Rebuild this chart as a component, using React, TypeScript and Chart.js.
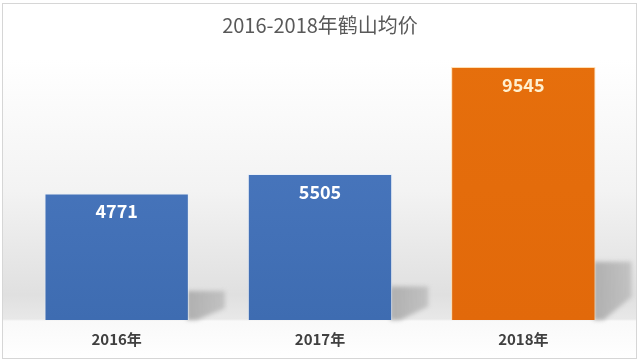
import React, { useEffect, useRef } from "react";
import { Chart, registerables } from "chart.js";

Chart.register(...registerables);

const TITLE = "2016-2018年鹤山均价";
const categories = ["2016年", "2017年", "2018年"];
const prices = [4771, 5505, 9545];
const barTop = ["#4D7BC3", "#4D7BC3", "#E66F0C"];
const barBottom = ["#3E6CB1", "#3E6CB1", "#E2690A"];
const labelColors = ["#FFFFFF", "#FFFFFF", "#FFF0CF"];

const FONT = "'Noto Sans CJK SC', 'Noto Sans', sans-serif";

const backgroundPlugin = {
  id: "bgPlugin",
  beforeDraw(chart: any) {
    const { ctx, width, height } = chart;
    ctx.save();
    ctx.fillStyle = "#ffffff";
    ctx.fillRect(0, 0, width, height);
    const g = ctx.createLinearGradient(0, 0, 0, 359);
    g.addColorStop(0, "#ffffff");
    g.addColorStop(60 / 359, "#ffffff");
    g.addColorStop(190 / 359, "#f3f3f3");
    g.addColorStop(295 / 359, "#e0e0e0");
    g.addColorStop(319 / 359, "#e8e8e8");
    g.addColorStop(321 / 359, "#f9f9f9");
    g.addColorStop(1, "#ffffff");
    ctx.fillStyle = g;
    ctx.fillRect(3, 4, 633, 354);
    ctx.strokeStyle = "#d6d6d6";
    ctx.lineWidth = 1;
    ctx.strokeRect(2.5, 3.5, 634, 355);
    // title
    ctx.fillStyle = "#595959";
    ctx.font = `20px ${FONT}`;
    ctx.textAlign = "center";
    ctx.textBaseline = "middle";
    ctx.fillText(TITLE, 320, 25);
    ctx.restore();
  },
  beforeDatasetsDraw(chart: any) {
    const { ctx } = chart;
    const meta = chart.getDatasetMeta(0);
    ctx.save();
    ctx.filter = "blur(2px)";
    meta.data.forEach((bar: any) => {
      const xR = bar.x + bar.width / 2;
      const yB = bar.base;
      const h = yB - bar.y;
      const sh = h * 0.23;
      const sw = 36;
      const g = ctx.createLinearGradient(xR, 0, xR + sw, 0);
      g.addColorStop(0, "rgba(170,170,170,0.9)");
      g.addColorStop(1, "rgba(180,180,180,0.7)");
      ctx.fillStyle = g;
      ctx.beginPath();
      ctx.moveTo(xR - 2, yB - sh);
      ctx.lineTo(xR + sw, yB - sh);
      ctx.lineTo(xR + sw, yB - sh * 0.4);
      ctx.lineTo(xR + 8, yB);
      ctx.lineTo(xR - 2, yB);
      ctx.closePath();
      ctx.fill();
    });
    ctx.restore();
  },
  afterDatasetsDraw(chart: any) {
    const { ctx } = chart;
    const meta = chart.getDatasetMeta(0);
    ctx.save();
    ctx.font = `bold 18px ${FONT}`;
    ctx.textAlign = "center";
    ctx.textBaseline = "middle";
    meta.data.forEach((bar: any, i: number) => {
      ctx.fillStyle = labelColors[i];
      ctx.fillText(String(prices[i]), bar.x, bar.y + 18);
    });
    ctx.restore();
  },
};

export default function App() {
  const ref = useRef<HTMLCanvasElement | null>(null);
  useEffect(() => {
    if (!ref.current) return;
    const chart = new Chart(ref.current, {
      type: "bar",
      data: {
        labels: categories,
        datasets: [
          {
            data: prices,
            backgroundColor: (c: any) => {
              const area = c.chart.chartArea;
              const i = c.dataIndex;
              if (!area || i === undefined) return barTop[0];
              const g = c.chart.ctx.createLinearGradient(0, area.top, 0, area.bottom);
              g.addColorStop(0, barTop[i]);
              g.addColorStop(1, barBottom[i]);
              return g;
            },
            borderColor: ["rgba(230,238,250,0.7)", "rgba(230,238,250,0.7)", "rgba(255,220,170,0.9)"],
            borderWidth: 1,
            barPercentage: 0.71,
            categoryPercentage: 1,
          },
        ],
      },
      options: {
        responsive: false,
        animation: false,
        layout: { padding: { left: 15, right: 15, top: 55, bottom: 5 } },
        plugins: {
          legend: { display: false },
          title: { display: false },
          tooltip: { enabled: false },
        },
        scales: {
          x: {
            grid: { display: false, drawTicks: false },
            border: { display: false },
            ticks: {
              padding: 10,
              color: "#404040",
              font: { family: FONT, size: 15, weight: "bold" },
            },
          },
          y: { display: false, min: 0, max: 10000 },
        },
      },
      plugins: [backgroundPlugin],
    });
    return () => chart.destroy();
  }, []);
  return (
    <div style={{ position: "absolute", left: 0, top: 0, width: 640, height: 363 }}>
      <canvas ref={ref} width={640} height={363} style={{ display: "block" }} />
    </div>
  );
}
